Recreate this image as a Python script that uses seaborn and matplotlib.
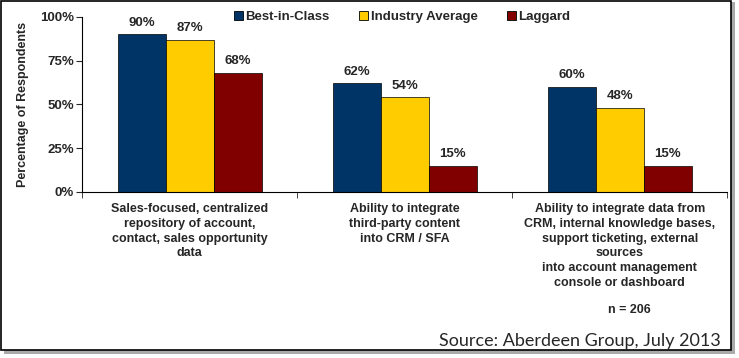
import pandas as pd
import matplotlib.pyplot as plt
import seaborn as sns
from matplotlib.patches import Patch, Rectangle
from matplotlib.ticker import PercentFormatter

# ==========================================================
# Data
# ==========================================================

categories = [
    "Sales-focused, centralized\nrepository of account,\ncontact, sales opportunity\ndata",
    "Ability to integrate\nthird-party content\ninto CRM / SFA",
    "Ability to integrate data from\nCRM, internal knowledge bases,\nsupport ticketing, external\nsources\ninto account management\nconsole or dashboard",
]
groups = ["Best-in-Class", "Industry Average", "Laggard"]
best_in_class = [0.90, 0.62, 0.60]
industry_average = [0.87, 0.54, 0.48]
laggard = [0.68, 0.15, 0.15]

colors = ["#003366", "#FFCC00", "#800000"]

df = pd.DataFrame({
    "Category": categories * 3,
    "Group": [g for g in groups for _ in categories],
    "Value": best_in_class + industry_average + laggard,
})

# ==========================================================
# Plot
# ==========================================================

sns.set_style("white")
plt.rcParams["font.family"] = ["Liberation Sans", "DejaVu Sans"]

fig = plt.figure(figsize=(7.39, 3.58), dpi=100)
ax = fig.add_axes([0.111, 0.4637, 0.873, 0.489])

sns.barplot(
    data=df, x="Category", y="Value", hue="Group",
    palette=colors, saturation=1, width=0.67, gap=0,
    edgecolor="black", linewidth=0.5, ax=ax, legend=False,
)

for cont in ax.containers:
    ax.bar_label(
        cont, labels=[f"{v * 100:.0f}%" for v in cont.datavalues],
        padding=4, fontsize=9.5, fontweight="bold",
    )

ax.set_ylim(0, 1.0)
ax.set_xlim(-0.5, 2.5)
ax.set_yticks([0, 0.25, 0.5, 0.75, 1.0])
ax.yaxis.set_major_formatter(PercentFormatter(1.0, decimals=0))
ax.tick_params(axis="y", labelsize=9.5, length=4, direction="out", left=True, pad=2)
for t in ax.get_yticklabels():
    t.set_fontweight("bold")

ax.set_xticks([0, 1, 2])
ax.set_xticklabels(categories, fontsize=9, fontweight="bold", linespacing=1.3)
ax.tick_params(axis="x", length=0, pad=8)
ax.set_xticks([-0.5, 0.5, 1.5, 2.5], minor=True)
ax.tick_params(axis="x", which="minor", length=4, direction="out", bottom=True)

ax.set_xlabel("")
ax.set_ylabel("Percentage of Respondents", fontsize=9, fontweight="bold", labelpad=8)

for side in ["top", "right"]:
    ax.spines[side].set_visible(False)
for side in ["left", "bottom"]:
    ax.spines[side].set_color("black")
    ax.spines[side].set_linewidth(0.8)

# legend along the top
handles = [Patch(facecolor=c, edgecolor="black", linewidth=0.6) for c in colors]
fig.legend(
    handles, groups, loc="upper left", bbox_to_anchor=(0.3, 1.003),
    ncol=3, frameon=False, handlelength=0.7, handleheight=0.7,
    handletextpad=0.2, columnspacing=2.2,
    prop={"size": 9.5, "weight": "bold"},
)

fig.text(0.852, 0.135, "n = 206", ha="center", va="center",
         fontsize=9, fontweight="bold")
fig.text(0.975, 0.048, "Source: Aberdeen Group, July 2013", ha="right",
         va="center", fontsize=13, family="Lato")

# frame with shadow
fig.patches.append(Rectangle((0.006, 0.012), 0.988, 0.983, transform=fig.transFigure,
                             facecolor="#aaaaaa", edgecolor="none", zorder=-2))
fig.patches.append(Rectangle((0.001, 0.022), 0.988, 0.976, transform=fig.transFigure,
                             facecolor="white", edgecolor="black", linewidth=1.2, zorder=-1))

fig.savefig("out.png", dpi=100)
